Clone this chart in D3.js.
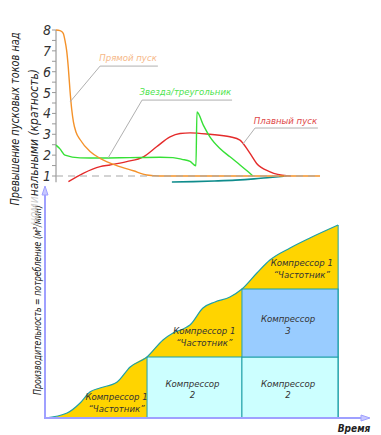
<!DOCTYPE html>
<html><head><meta charset="utf-8">
<script src="https://cdn.jsdelivr.net/npm/d3@7"></script>
<style>
html,body{margin:0;padding:0;background:#fff;}
svg{display:block;}
text{font-family:"DejaVu Sans Condensed","DejaVu Sans",sans-serif;font-stretch:condensed;font-style:italic;}
</style></head>
<body>
<script>
// ---------- Top chart: starting current multiples ----------
const yTicksTop = [1,2,3,4,5,6,7,8];
const directT = [0,1.5,2.7,3.4,4.05,4.66,5.3,5.95,6.6,7.6,9.1,12.9,16.7,23,29.3,34.4,39.4,100];
const directV = [8,7.97,7.85,7.5,7.0,6.2,5.1,4.2,3.6,3.1,2.75,2.17,1.85,1.5,1.25,1.05,1.0,1.0];
const starT = [0,1.5,3.4,9.1,16.7,28,39.4,44.3,47.7,50.8,53.0,53.4,55.8,58.3,62.1,65.9,69.7,72.8,74.6];
const starV = [2.48,2.3,2.0,1.87,1.86,1.88,1.9,1.88,1.8,1.7,1.49,4.07,3.44,2.88,2.32,1.92,1.53,1.2,1.0];
const softT = [4.7,10.3,16.7,20.5,26.8,33.1,38.1,43.2,47,50.8,58.3,65.9,69.7,70.9,73.5,76,81.1,87.4,89];
const softV = [0.73,1.13,1.45,1.53,1.69,1.92,2.4,2.88,3.04,3.07,3.0,2.88,2.72,2.56,2.08,1.6,1.2,1.01,1.0];
const lossT = [43.9,52,60,68,75,81,87.4];
const lossV = [0.71,0.73,0.76,0.8,0.86,0.93,1.0];
const topLabels = ["Прямой пуск","Звезда/треугольник","Плавный пуск"];

// ---------- Bottom chart: demand / compressors ----------
const demandT = [0,6.8,10.8,13.8,16.9,22.2,26.2,31.4,36.3,39.4,43.1,44.6,48.6,52.3,56.9,60.6,65.2,69.2,75.4,81.5,90.2];
const demandQ = [0,2.5,7.5,13,15,18,25.5,30.5,39,42.5,45,46.5,55,58,60.5,64.5,72.5,79,85,90,96.5];
const stageT = [0,31.4,60.6,90.2];
const levelQ = [0,30.5,64.5];
const baseBlocks = [
  {t0:31.4,t1:60.6,q0:0,q1:30.5,name:["Компрессор","2"],fill:"#ccffff"},
  {t0:60.6,t1:90.2,q0:0,q1:30.5,name:["Компрессор","2"],fill:"#ccffff"},
  {t0:60.6,t1:90.2,q0:30.5,q1:64.5,name:["Компрессор","3"],fill:"#99ccff"}
];
const vfdName = ["Компрессор 1","\u201cЧастотник\u201d"];

const W=381,H=435;
const svg=d3.select("body").append("svg").attr("width",W).attr("height",H);
svg.append("rect").attr("width",W).attr("height",H).attr("fill","#fff");

// scales
const xT=d3.scaleLinear([0,100],[56,320]);
const yT=d3.scaleLinear([1,8],[176,30]);
const xB=d3.scaleLinear([0,100],[45,370]);
const yB=d3.scaleLinear([0,116],[418,186]);

// ---------- bottom chart ----------
const g=svg.append("g");
const teal="#1fa0a8";
const curveF=d3.curveMonotoneX;
const pts=demandT.map((t,i)=>({t,q:demandQ[i]}));
[[0,7],[7,15],[15,20]].forEach(([a,b],k)=>{
  const seg=pts.slice(a,b+1);
  g.append("path").datum(seg)
   .attr("d",d3.area().x(d=>xB(d.t)).y0(yB(levelQ[k])).y1(d=>yB(d.q)).curve(curveF))
   .attr("fill","#ffd400");
});
baseBlocks.forEach(b=>{
  g.append("rect").attr("x",xB(b.t0)).attr("y",yB(b.q1))
   .attr("width",xB(b.t1)-xB(b.t0)).attr("height",yB(b.q0)-yB(b.q1))
   .attr("fill",b.fill).attr("stroke",teal).attr("stroke-width",1);
});
g.append("line").attr("x1",xB(90.2)).attr("x2",xB(90.2)).attr("y1",yB(0)).attr("y2",yB(96.5))
 .attr("stroke",teal).attr("stroke-width",1);
g.append("path").datum(pts)
 .attr("d",d3.line().x(d=>xB(d.t)).y(d=>yB(d.q)).curve(curveF))
 .attr("fill","none").attr("stroke",teal).attr("stroke-width",1.2);

function label2(x,y,lines,size){
  lines.forEach((s,i)=>g.append("text").attr("text-anchor","middle").attr("font-size",size)
    .attr("fill","#333").attr("x",x).attr("y",y+i*11.5).text(s));
}
baseBlocks.forEach(b=>label2((xB(b.t0)+xB(b.t1))/2-2,(yB(b.q0)+yB(b.q1))/2-1,b.name,9.5));
label2(xB(22),yB(9),vfdName,9.5);
label2(xB(49),yB(42),vfdName,9.5);
label2(xB(79),yB(76),vfdName,9.5);

// blue axes
const axC="#9fa0ff";
g.append("line").attr("x1",xB(0)).attr("x2",xB(0)).attr("y1",yB(0)+1).attr("y2",yB(113))
 .attr("stroke",axC).attr("stroke-width",2);
g.append("line").attr("x1",xB(0)).attr("x2",xB(97.5)).attr("y1",yB(0)).attr("y2",yB(0))
 .attr("stroke",axC).attr("stroke-width",2);
const ax=xB(0),ay=yB(116);
g.append("path").attr("d",`M${ax},${ay}L${ax-3},${ay+9}L${ax+3},${ay+9}Z`).attr("fill","#c8c8ff").attr("stroke",axC);
const bx=xB(100),by=yB(0);
g.append("path").attr("d",`M${bx},${by}L${bx-9},${by-3}L${bx-9},${by+3}Z`).attr("fill","#c8c8ff").attr("stroke",axC);

g.append("text").attr("x",354).attr("y",432).attr("text-anchor","middle").attr("font-size",10)
 .attr("font-weight","bold").attr("fill","#222").text("Время");
g.append("text").attr("transform","translate(41,300) rotate(-90)").attr("text-anchor","middle")
 .attr("font-size",11).attr("fill","#222").attr("textLength",190).attr("lengthAdjust","spacingAndGlyphs")
 .text("Производительность = потребление (м³/мин)");

// ---------- top chart ----------
const t=svg.append("g");
const ticks=d3.range(1,8.01,0.5);
t.append("line").attr("x1",xT(0)).attr("x2",xT(0)).attr("y1",yT(8)).attr("y2",yT(0.7))
 .attr("stroke","#888").attr("stroke-width",1);
t.selectAll("line.tk").data(ticks).join("line").attr("class","tk")
 .attr("x1",xT(0)-4).attr("x2",xT(0)).attr("y1",d=>yT(d)).attr("y2",d=>yT(d))
 .attr("stroke","#999").attr("stroke-width",1);
t.selectAll("text.tl").data(yTicksTop).join("text").attr("class","tl")
 .attr("x",xT(0)-5).attr("y",d=>yT(d)+5).attr("text-anchor","end")
 .attr("font-size",14).attr("fill","#333").text(d=>d);

const line=d3.line().x(d=>xT(d[0])).y(d=>yT(d[1])).curve(d3.curveMonotoneX);
const ser=(T,V)=>T.map((x,i)=>[x,V[i]]);
t.append("path").attr("d",line(ser(lossT,lossV))).attr("fill","none").attr("stroke","#0f8c8c").attr("stroke-width",1.6);
t.append("path").attr("d",line(ser(softT,softV))).attr("fill","none").attr("stroke","#e42b2b").attr("stroke-width",1.4);
t.append("path").attr("d",line(ser(starT,starV))).attr("fill","none").attr("stroke","#36e036").attr("stroke-width",1.4);
t.append("path").attr("d",line(ser(directT,directV))).attr("fill","none").attr("stroke","#f4922a").attr("stroke-width",1.4);
t.append("line").attr("x1",xT(0)).attr("x2",xT(100)).attr("y1",yT(1)).attr("y2",yT(1))
 .attr("stroke","#a8a8a8").attr("stroke-width",1.2).attr("stroke-dasharray","7,5");

const leaders=[
  {p:[[5.3,4.55],[16.7,6.27],[38.6,6.27]],tx:27.3,ty:6.5,c:"#f6b888",s:topLabels[0]},
  {p:[[19.7,1.86],[32.6,4.64],[66.7,4.64]],tx:49,ty:4.88,c:"#4ee44e",s:topLabels[1]},
  {p:[[70.8,2.53],[75.4,3.30],[99.2,3.30]],tx:86.9,ty:3.51,c:"#e04848",s:topLabels[2]}
];
leaders.forEach(l=>{
  t.append("path").attr("d",d3.line().x(d=>xT(d[0])).y(d=>yT(d[1]))(l.p))
   .attr("fill","none").attr("stroke","#b0b0b0").attr("stroke-width",1);
  t.append("text").attr("x",xT(l.tx)).attr("y",yT(l.ty)).attr("text-anchor","middle")
   .attr("font-size",9.5).attr("fill",l.c).text(l.s);
});

t.append("text").attr("transform","translate(19,119) rotate(-90)").attr("text-anchor","middle")
 .attr("font-size",12).attr("fill","#222").attr("textLength",173).attr("lengthAdjust","spacingAndGlyphs")
 .text("Превышение пусковых токов над");
const t2=t.append("text").attr("transform","translate(38,147) rotate(-90)").attr("text-anchor","middle")
 .attr("font-size",12).attr("fill","#222").attr("textLength",156).attr("lengthAdjust","spacingAndGlyphs");
t2.append("tspan").attr("fill","#cfcfcf").text("номи");
t2.append("tspan").text("нальными (кратность)");
</script>
</body></html>
